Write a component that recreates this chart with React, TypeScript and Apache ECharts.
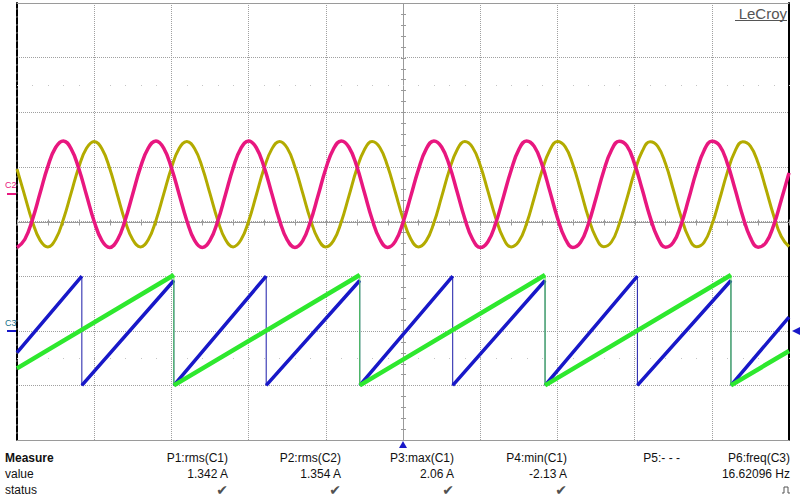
import React, { useEffect, useRef } from "react";
import * as echarts from "echarts";

// ---- time base: 25 ms/div, 10 divisions ----
const X_MIN = 0;
const X_MAX = 250;
const X_DIV = 25;
const SAMPLE_MS = 2.5;

// ---- C1 (pink) current samples, A, every 2.5 ms ----
const c1Amps = [
  -1.95, -1.66, -0.93, 0.05, 1.02, 1.71, 1.95, 1.67, 0.94, -0.03, -1.0, -1.7,
  -1.95, -1.68, -0.96, 0.02, 0.99, 1.69, 1.95, 1.69, 0.97, 0.0, -0.97, -1.69,
  -1.95, -1.69, -0.99, -0.02, 0.96, 1.68, 1.95, 1.7, 1.0, 0.03, -0.95, -1.67,
  -1.95, -1.71, -1.01, -0.05, 0.93, 1.66, 1.95, 1.72, 1.03, 0.06, -0.92, -1.65,
  -1.95, -1.73, -1.04, -0.08, 0.9, 1.65, 1.95, 1.73, 1.06, 0.1, -0.89, -1.64,
  -1.95, -1.74, -1.07, -0.11, 0.87, 1.63, 1.95, 1.75, 1.09, 0.13, -0.86, -1.62,
  -1.95, -1.76, -1.1, -0.15, 0.85, 1.61, 1.94, 1.77, 1.11, 0.16, -0.83, -1.6,
  -1.94, -1.77, -1.13, -0.18, 0.82, 1.6, 1.94, 1.78, 1.14, 0.2, -0.8, -1.59,
  -1.94, -1.78, -1.15, -0.21, 0.78,
];

// ---- C2 (olive) current samples, A, every 2.5 ms ----
const c2Amps = [
  0.92, -0.05, -1.01, -1.69, -1.93, -1.65, -0.93, 0.03, 0.99, 1.68, 1.93, 1.66,
  0.95, -0.02, -0.98, -1.67, -1.93, -1.67, -0.96, 0.0, 0.96, 1.67, 1.93, 1.67,
  0.98, 0.02, -0.95, -1.66, -1.93, -1.68, -0.99, -0.03, 0.94, 1.65, 1.93, 1.69,
  1.0, 0.05, -0.92, -1.64, -1.93, -1.7, -1.02, -0.06, 0.91, 1.63, 1.93, 1.71,
  1.03, 0.08, -0.89, -1.63, -1.93, -1.71, -1.05, -0.1, 0.88, 1.62, 1.93, 1.72,
  1.06, 0.11, -0.86, -1.61, -1.93, -1.73, -1.08, -0.13, 0.85, 1.6, 1.93, 1.74,
  1.09, 0.15, -0.84, -1.59, -1.92, -1.75, -1.1, -0.16, 0.82, 1.58, 1.92, 1.75,
  1.12, 0.18, -0.81, -1.58, -1.92, -1.76, -1.13, -0.2, 0.79, 1.57, 1.92, 1.76,
  1.14, 0.21, -0.77, -1.55, -1.92,
];

// ---- C3 (blue) sawtooth vertices ----
const c3Times = [0, 21.0, 21.0, 50.8, 50.8, 80.7, 80.7, 111.0, 111.0, 141.1, 141.1, 171.0, 171.0, 200.9, 200.9, 231.2, 231.2, 250];
const c3Volts = [-0.4, 1.0, -1.0, 0.92, -1.0, 1.0, -1.0, 0.92, -1.0, 1.0, -1.0, 0.92, -1.0, 1.0, -1.0, 0.92, -1.0, 0.25];

// ---- C4 (green) sawtooth vertices ----
const c4Times = [0, 50.8, 50.8, 111.0, 111.0, 171.0, 171.0, 231.2, 231.2, 250];
const c4Volts = [-0.69, 1.02, -1.0, 1.02, -1.0, 1.02, -1.0, 1.02, -1.0, -0.37];

// ---- measurement table ----
const measureLabels = ["P1:rms(C1)", "P2:rms(C2)", "P3:max(C1)", "P4:min(C1)", "P5:- - -", "P6:freq(C3)"];
const measureValues = ["1.342 A", "1.354 A", "2.06 A", "-2.13 A", "", "16.62096 Hz"];
const measureStatus = ["ok", "ok", "ok", "ok", "", "pulse"];

const PINK = "#e8177f";
const OLIVE = "#b3ab00";
const BLUE = "#1818c8";
const GREEN = "#2ee82e";
const GRIDC = "#a0a0a0";
const FONT = '"Liberation Sans", Arial, sans-serif';

function withBreaks(times: number[], vals: number[]) {
  const out: any[] = [];
  for (let i = 0; i < times.length; i++) {
    if (i > 0 && times[i] === times[i - 1]) out.push([times[i], "-"]);
    out.push([times[i], vals[i]]);
  }
  return out;
}

export default function App() {
  const ref = useRef<HTMLDivElement>(null);
  useEffect(() => {
    const el = ref.current!;
    const chart = echarts.init(el, null, { renderer: "svg" });

    const crisp = (v: number) => Math.round(v) + 0.5;

    const crossSeries = {
      type: "custom",
      xAxisIndex: 0,
      yAxisIndex: 0,
      z: 1,
      silent: true,
      data: [[0, 0]],
      renderItem: (_p: any, api: any) => {
        const children: any[] = [];
        const line = (x1: number, y1: number, x2: number, y2: number, color: string) => ({
          type: "line",
          shape: { x1, y1, x2, y2 },
          style: { stroke: color, lineWidth: 1 },
        });
        const left = api.coord([X_MIN, 0]);
        const right = api.coord([X_MAX, 0]);
        const top = api.coord([(X_MIN + X_MAX) / 2, 4]);
        const bot = api.coord([(X_MIN + X_MAX) / 2, -4]);
        const cy = crisp(left[1]);
        const cx = crisp(top[0]);
        children.push(line(left[0], cy, right[0], cy, "#9a9a9a"));
        children.push(line(cx, top[1], cx, bot[1], "#9a9a9a"));
        for (let t = X_MIN; t <= X_MAX + 0.001; t += X_DIV / 5) {
          const p = api.coord([t, 0]);
          const x = crisp(p[0]);
          children.push(line(x, cy - 3, x, cy + 3, "#9a9a9a"));
          for (const d of [2.5, -2.5]) {
            const q = api.coord([t, d]);
            children.push({ type: "rect", shape: { x: Math.round(q[0]), y: Math.round(q[1]), width: 1, height: 1 }, style: { fill: "#c4c4c4" } });
          }
        }
        for (let d = -4; d <= 4.001; d += 0.2) {
          const p = api.coord([(X_MIN + X_MAX) / 2, d]);
          const y = crisp(p[1]);
          children.push(line(cx - 2.5, y, cx + 2.5, y, "#9a9a9a"));
        }
        return { type: "group", children };
      },
    };

    const sineData = (arr: number[]) => arr.map((v, k) => [k * SAMPLE_MS, v]);
    const polyData = (t: number[], v: number[]) => t.map((x, i) => [x, v[i]]);

    const lineBase = { type: "line", showSymbol: false, symbol: "none", silent: true, connectNulls: false };

    const graphic: any[] = [];
    graphic.push({
      type: "text",
      x: 787,
      y: 13,
      style: { text: "LeCroy", font: `15px ${FONT}`, fill: "#555555", textAlign: "right", align: "right", textVerticalAlign: "middle", verticalAlign: "middle" },
    });
    graphic.push({ type: "line", shape: { x1: 735, y1: 20.5, x2: 787, y2: 20.5 }, style: { stroke: "#555555", lineWidth: 1 } });

    // channel markers
    graphic.push({ type: "text", x: 5, y: 185, style: { text: "C2", font: `9px ${FONT}`, fill: PINK, textVerticalAlign: "middle", verticalAlign: "middle" } });
    graphic.push({ type: "rect", shape: { x: 7, y: 193, width: 9, height: 2 }, style: { fill: PINK } });
    graphic.push({ type: "text", x: 5, y: 323, style: { text: "C3", font: `9px ${FONT}`, fill: "#16708a", textVerticalAlign: "middle", verticalAlign: "middle" } });
    graphic.push({ type: "rect", shape: { x: 7, y: 330, width: 10, height: 2 }, style: { fill: BLUE } });
    graphic.push({ type: "polygon", shape: { points: [[792, 331], [800, 327], [800, 335]] }, style: { fill: BLUE } });
    graphic.push({ type: "polygon", shape: { points: [[403, 441], [399, 448], [407, 448]] }, style: { fill: BLUE } });

    // measure table
    const rowY = [458, 474, 490];
    graphic.push({ type: "text", x: 5, y: rowY[0], style: { text: "Measure", font: `bold 12px ${FONT}`, fill: "#111", textVerticalAlign: "middle", verticalAlign: "middle" } });
    graphic.push({ type: "text", x: 5, y: rowY[1], style: { text: "value", font: `12px ${FONT}`, fill: "#111", textVerticalAlign: "middle", verticalAlign: "middle" } });
    graphic.push({ type: "text", x: 5, y: rowY[2], style: { text: "status", font: `12px ${FONT}`, fill: "#111", textVerticalAlign: "middle", verticalAlign: "middle" } });
    const colRight = [228, 341, 454, 567, 680, 790];
    measureLabels.forEach((lab, i) => {
      const x = colRight[i];
      graphic.push({ type: "text", x, y: rowY[0], style: { text: lab, font: `12px ${FONT}`, fill: "#111", textAlign: "right", align: "right", textVerticalAlign: "middle", verticalAlign: "middle" } });
      if (measureValues[i]) {
        graphic.push({ type: "text", x, y: rowY[1], style: { text: measureValues[i], font: `12px ${FONT}`, fill: "#111", textAlign: "right", align: "right", textVerticalAlign: "middle", verticalAlign: "middle" } });
      }
      if (measureStatus[i] === "ok") {
        graphic.push({ type: "text", x: x, y: rowY[2], style: { text: "\u2714", font: `14px "DejaVu Sans"`, fill: "#505050", textAlign: "right", align: "right", textVerticalAlign: "middle", verticalAlign: "middle" } });
      } else if (measureStatus[i] === "pulse") {
        graphic.push({
          type: "polyline",
          shape: { points: [[x - 8, 493], [x - 6, 493], [x - 6, 487], [x - 2, 487], [x - 2, 493], [x, 493]] },
          style: { stroke: "#555555", lineWidth: 1, fill: "none" },
        });
      }
    });

    const option: any = {
      animation: false,
      backgroundColor: "#ffffff",
      grid: { left: 17, top: 3, right: 11, bottom: 60, containLabel: false },
      xAxis: [
        {
          type: "value", min: X_MIN, max: X_MAX, interval: X_DIV, position: "bottom",
          axisLine: { show: true, onZero: false, lineStyle: { color: "#9a9a9a", width: 1 } },
          axisTick: { show: false }, axisLabel: { show: false },
          splitLine: { show: true, lineStyle: { color: GRIDC, type: "dotted", width: 1 } },
        },
        {
          type: "value", min: X_MIN, max: X_MAX, interval: X_DIV, position: "top",
          axisLine: { show: true, onZero: false, lineStyle: { color: "#9a9a9a", width: 1 } },
          axisTick: { show: false }, axisLabel: { show: false }, splitLine: { show: false },
        },
      ],
      yAxis: [
        {
          type: "value", min: -4, max: 4, interval: 1, position: "left",
          axisLine: { show: true, onZero: false, lineStyle: { color: "#000000", width: 2, type: [6, 2] } },
          axisTick: { show: false }, axisLabel: { show: false },
          splitLine: { show: true, lineStyle: { color: GRIDC, type: "dotted", width: 1 } },
        },
        { type: "value", min: -9, max: 7, show: false },
        {
          type: "value", min: -2, max: 6, position: "right",
          axisLine: { show: true, onZero: false, lineStyle: { color: "#000000", width: 2 } },
          axisTick: { show: false }, axisLabel: { show: false }, splitLine: { show: false },
        },
      ],
      series: [
        crossSeries,
        { ...lineBase, name: "C2", xAxisIndex: 0, yAxisIndex: 1, z: 3, smooth: 0.45, data: sineData(c2Amps), lineStyle: { color: OLIVE, width: 3 } },
        { ...lineBase, name: "C1", xAxisIndex: 0, yAxisIndex: 1, z: 4, smooth: 0.45, data: sineData(c1Amps), lineStyle: { color: PINK, width: 3.5 } },
        { ...lineBase, name: "C3 edge", xAxisIndex: 0, yAxisIndex: 2, z: 5, data: polyData(c3Times, c3Volts), lineStyle: { color: "#1a1aa8", width: 1 } },
        { ...lineBase, name: "C3", xAxisIndex: 0, yAxisIndex: 2, z: 6, data: withBreaks(c3Times, c3Volts), lineStyle: { color: BLUE, width: 3.5 } },
        { ...lineBase, name: "C4 edge", xAxisIndex: 0, yAxisIndex: 2, z: 7, data: polyData(c4Times, c4Volts), lineStyle: { color: "#4cd84c", width: 1 } },
        { ...lineBase, name: "C4", xAxisIndex: 0, yAxisIndex: 2, z: 8, data: withBreaks(c4Times, c4Volts), lineStyle: { color: GREEN, width: 4.5 } },
      ],
      graphic,
    };
    chart.setOption(option);
    return () => chart.dispose();
  }, []);
  return <div ref={ref} style={{ position: "fixed", left: 0, top: 0, width: 800, height: 500, background: "#fff" }} />;
}
